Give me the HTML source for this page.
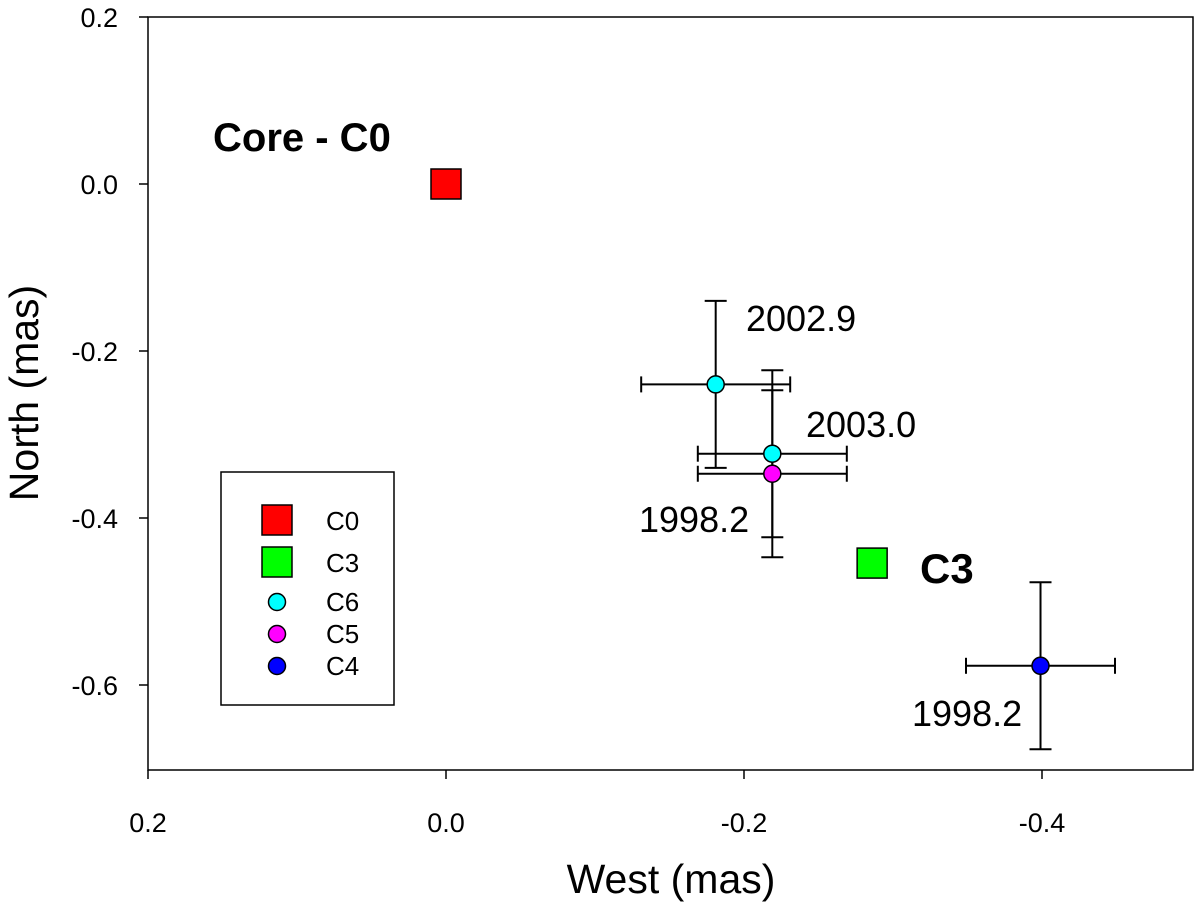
<!DOCTYPE html>
<html><head><meta charset="utf-8">
<style>
html,body{margin:0;padding:0;background:#fff;}
svg{display:block;font-family:"Liberation Sans",Arial,sans-serif;}
</style></head>
<body>
<svg id="chart" width="1200" height="903" viewBox="0 0 1200 903">
  <rect x="148" y="17" width="1045" height="753" fill="none" stroke="#000" stroke-width="1.5"/>
  <g id="xticks"></g>
  <g id="yticks"></g>
  <text x="671" y="893" font-size="41" text-anchor="middle">West (mas)</text>
  <text transform="translate(38,393) rotate(-90)" font-size="41" text-anchor="middle">North (mas)</text>
  <g id="marks"></g>
  <text x="213" y="151" font-size="40" font-weight="bold">Core - C0</text>
  <text x="920" y="583" font-size="42" font-weight="bold">C3</text>
  <text x="746" y="331" font-size="36">2002.9</text>
  <text x="806" y="437" font-size="36">2003.0</text>
  <text x="639" y="532" font-size="36">1998.2</text>
  <text x="912" y="726" font-size="36">1998.2</text>
  <g>
    <rect x="221" y="472" width="173" height="233" fill="#fff" stroke="#000" stroke-width="1.5"/>
    <rect x="262" y="505" width="30" height="30" fill="#ff0000" stroke="#000" stroke-width="1.5"/>
    <text x="326" y="530" font-size="26">C0</text>
    <rect x="262" y="547" width="30" height="30" fill="#00ff00" stroke="#000" stroke-width="1.5"/>
    <text x="326" y="572" font-size="26">C3</text>
    <circle cx="277" cy="602" r="8.5" fill="#00ffff" stroke="#000" stroke-width="1.5"/>
    <text x="326" y="611" font-size="26">C6</text>
    <circle cx="277" cy="634" r="8.5" fill="#ff00ff" stroke="#000" stroke-width="1.5"/>
    <text x="326" y="643" font-size="26">C5</text>
    <circle cx="277" cy="666" r="8.5" fill="#0000ff" stroke="#000" stroke-width="1.5"/>
    <text x="326" y="675" font-size="26">C4</text>
  </g>
</svg>
<script>
const xTickVals = [0.2, 0.0, -0.2, -0.4];
const xTickLabels = ["0.2", "0.0", "-0.2", "-0.4"];
const yTickVals = [0.2, 0.0, -0.2, -0.4, -0.6];
const yTickLabels = ["0.2", "0.0", "-0.2", "-0.4", "-0.6"];
const squareNames = ["C0", "C3"];
const squareX = [0.0, -0.286];
const squareY = [0.0, -0.454];
const squareColors = ["#ff0000", "#00ff00"];
const pointNames = ["C6-2002.9", "C6-2003.0", "C5-1998.2", "C4-1998.2"];
const pointX = [-0.181, -0.219, -0.219, -0.399];
const pointY = [-0.240, -0.323, -0.347, -0.577];
const pointXErr = [0.05, 0.05, 0.05, 0.05];
const pointYErr = [0.10, 0.10, 0.10, 0.10];
const pointColors = ["#00ffff", "#00ffff", "#ff00ff", "#0000ff"];

const NS = "http://www.w3.org/2000/svg";
function sx(v){ return 446 - v * 1490; }
function sy(v){ return 184 - v * 835; }
function mk(tag, attrs, parent){
  const e = document.createElementNS(NS, tag);
  for (const k in attrs) e.setAttribute(k, attrs[k]);
  parent.appendChild(e); return e;
}
const xg = document.getElementById('xticks');
xTickVals.forEach((v,i)=>{
  const x = sx(v);
  const t = mk('line',{x1:x,x2:x,y1:770,y2:779,stroke:'#000','stroke-width':1.5},xg);
  
  
  const l = mk('text',{x:x,y:832,'font-size':27,'text-anchor':'middle'},xg);
  l.textContent = xTickLabels[i];
  
  
});
const yg = document.getElementById('yticks');
yTickVals.forEach((v,i)=>{
  const y = sy(v);
  const t = mk('line',{x1:139,x2:148,y1:y,y2:y,stroke:'#000','stroke-width':1.5},yg);
  
  
  const l = mk('text',{x:118,y:y+10,'font-size':27,'text-anchor':'end'},yg);
  l.textContent = yTickLabels[i];
  
  
});
const mg = document.getElementById('marks');
squareX.forEach((v,i)=>{
  const x = sx(v), y = sy(squareY[i]);
  const r = mk('rect',{x:x-15,y:y-15,width:30,height:30,fill:squareColors[i],stroke:'#000','stroke-width':1.5},mg);
  
  
});
pointX.forEach((v,i)=>{
  const x = sx(v), y = sy(pointY[i]);
  const x1 = sx(v + pointXErr[i]), x2 = sx(v - pointXErr[i]);
  const y1 = sy(pointY[i] + pointYErr[i]), y2 = sy(pointY[i] - pointYErr[i]);
  const g = mk('g',{stroke:'#000','stroke-width':2},mg);
  
  
  mk('line',{x1:x1,x2:x2,y1:y,y2:y},g);
  mk('line',{x1:x1,x2:x1,y1:y-8,y2:y+8},g);
  mk('line',{x1:x2,x2:x2,y1:y-8,y2:y+8},g);
  mk('line',{x1:x,x2:x,y1:y1,y2:y2},g);
  mk('line',{x1:x-11,x2:x+11,y1:y1,y2:y1},g);
  mk('line',{x1:x-11,x2:x+11,y1:y2,y2:y2},g);
});
pointX.forEach((v,i)=>{
  const c = mk('circle',{cx:sx(v),cy:sy(pointY[i]),r:8.5,fill:pointColors[i],stroke:'#000','stroke-width':1.5},mg);
  
  
});
</script>
</body></html>
